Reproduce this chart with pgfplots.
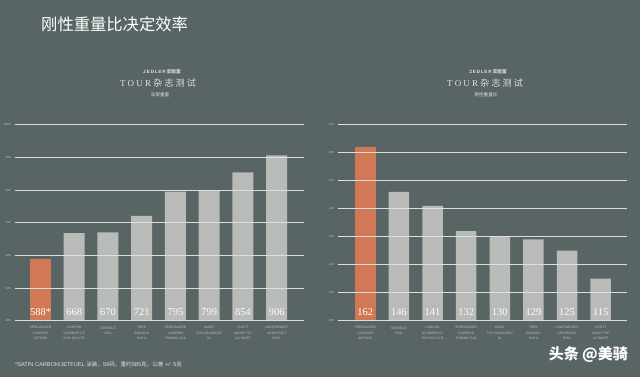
\documentclass[border=0pt]{standalone}
\usepackage{fontspec}
\usepackage{pgfplots}
\pgfplotsset{compat=1.18}
\setmainfont{Liberation Serif}
\newfontfamily\sans{Liberation Sans}
\newfontfamily\cjk{Noto Sans CJK SC}
\definecolor{bgc}{RGB}{89,101,100}
\definecolor{barc}{RGB}{185,187,185}
\definecolor{orangec}{RGB}{209,121,86}
\definecolor{gridc}{RGB}{218,222,220}
\definecolor{tickc}{RGB}{190,198,195}
\definecolor{subc}{RGB}{222,226,224}
\pgfplotsset{
  refstyle/.style={
    anchor=south west, scale only axis, height=196pt,
    axis line style={draw=none}, tick style={draw=none},
    ymajorgrids, grid style={gridc, line width=0.9pt},
    axis on top,
    /pgf/number format/assume math mode=true,
    /pgf/number format/1000 sep={},
    yticklabel style={font=\sans\fontsize{3}{3}\selectfont, text=tickc, anchor=east, xshift=-0.5pt},
    xtick={0,...,7},
    xticklabel style={font=\sans\fontsize{3.3}{5.6}\selectfont, align=center, text=tickc, anchor=north, yshift=-2pt},
  },
}
\begin{document}
\begin{tikzpicture}[x=1pt,y=1pt]
\fill[bgc] (0pt,0pt) rectangle (640pt,377pt);
\useasboundingbox (0pt,0pt) rectangle (640pt,377pt);
\node[anchor=west, text=white, font=\cjk\fontsize{16.3}{16.3}\selectfont, inner sep=0pt] at (41pt,353pt) {刚性重量比决定效率};
% left subtitles
\node[text=subc, font=\sans\bfseries\fontsize{4.6}{4.6}\selectfont, inner sep=0pt] at (162pt,305.5pt) {Z\,E\,D\,L\,E\,R {\cjk\bfseries 实验室}};
\node[text=subc, font=\fontsize{9}{9}\selectfont, inner sep=0pt] at (158pt,294pt) {T\hspace{2.2pt}O\hspace{2.2pt}U\hspace{2.2pt}R\hspace{2.2pt}{\cjk 杂\hspace{2.2pt}志\hspace{2.2pt}测\hspace{2.2pt}试}};
\node[text=subc, font=\cjk\fontsize{4.6}{4.6}\selectfont, inner sep=0pt] at (160pt,282.5pt) {车架重量};
% right subtitles
\node[text=subc, font=\sans\bfseries\fontsize{4.6}{4.6}\selectfont, inner sep=0pt] at (488pt,305.5pt) {Z\,E\,D\,L\,E\,R {\cjk\bfseries 实验室}};
\node[text=subc, font=\fontsize{9}{9}\selectfont, inner sep=0pt] at (485pt,294pt) {T\hspace{2.2pt}O\hspace{2.2pt}U\hspace{2.2pt}R\hspace{2.2pt}{\cjk 杂\hspace{2.2pt}志\hspace{2.2pt}测\hspace{2.2pt}试}};
\node[text=subc, font=\cjk\fontsize{4.6}{4.6}\selectfont, inner sep=0pt] at (486pt,282.5pt) {刚性重量比};
% footnote
\node[anchor=west, text=subc, font=\sans\fontsize{5.6}{5.6}\selectfont, inner sep=0pt] at (15pt,12.5pt) {*SATIN CARBON/JETFUEL {\cjk 涂装，}56{\cjk 码，重约}585{\cjk 克，公差} +/- 5{\cjk 克}};
% watermark
\node[anchor=east, text=white, font=\cjk\bfseries\fontsize{15}{15}\selectfont, inner sep=0pt] at (628pt,22pt) {头条 @美骑};

\begin{axis}[refstyle, at={(14.7pt,56.3pt)}, width=289.3pt,
  xmin=-0.765, xmax=7.81, ymin=400, ymax=1000, ytick={400,500,...,1000},
  xticklabels={SPECIALIZED\\S-WORKS\\AETHOS, CANYON\\ULTIMATE CF\\EVO 10.0 LTD, CERVÉLO\\RCA, TREK\\ÉMONDA\\SLR 9, SPECIALIZED\\S-WORKS\\TARMAC SL6, GIANT\\TCR ADVANCED\\SL, SCOTT\\ADDICT RC\\ULTIMATE, LIGHTWEIGHT\\URGESTALT\\DISC},
  visualization depends on={y \as \rawy},
  nodes near coords style={anchor=base, font=\fontsize{10.5}{10.5}\selectfont, yshift={-(\rawy-400)*0.326667+5.5}},
]
\addplot[ybar, bar width=21pt, bar shift=0pt, fill=orangec, draw=none,
  nodes near coords, point meta=explicit symbolic,
  every node near coord/.append style={text=white}]
  coordinates {(0,588) [588*]};
\addplot[ybar, bar width=21pt, bar shift=0pt, fill=barc, draw=none,
  nodes near coords, point meta=explicit symbolic,
  every node near coord/.append style={text=white!94!barc}]
  coordinates {(1,668) [668] (2,670) [670] (3,721) [721] (4,795) [795] (5,799) [799] (6,854) [854] (7,906) [906]};
\end{axis}

\begin{axis}[refstyle, at={(337.7pt,56.3pt)}, width=289.6pt,
  xmin=-0.82, xmax=7.79, ymin=100, ymax=170, ytick={100,110,...,170},
  xticklabels={SPECIALIZED\\S-WORKS\\AETHOS, CERVÉLO\\RCA, CANYON\\ULTIMATE CF\\EVO 10.0 LTD, SPECIALIZED\\S-WORKS\\TARMAC SL6, GIANT\\TCR ADVANCED\\SL, TREK\\ÉMONDA\\SLR 9, LIGHTWEIGHT\\URGESTALT\\DISC, SCOTT\\ADDICT RC\\ULTIMATE},
  visualization depends on={y \as \rawy},
  nodes near coords style={anchor=base, font=\fontsize{10.5}{10.5}\selectfont, yshift={-(\rawy-100)*2.8+5.5}},
]
\addplot[ybar, bar width=20.5pt, bar shift=0pt, fill=orangec, draw=none,
  nodes near coords, point meta=explicit symbolic,
  every node near coord/.append style={text=white}]
  coordinates {(0,162) [162]};
\addplot[ybar, bar width=20.5pt, bar shift=0pt, fill=barc, draw=none,
  nodes near coords, point meta=explicit symbolic,
  every node near coord/.append style={text=white!94!barc}]
  coordinates {(1,146) [146] (2,141) [141] (3,132) [132] (4,130) [130] (5,129) [129] (6,125) [125] (7,115) [115]};
\end{axis}
\end{tikzpicture}
\end{document}
